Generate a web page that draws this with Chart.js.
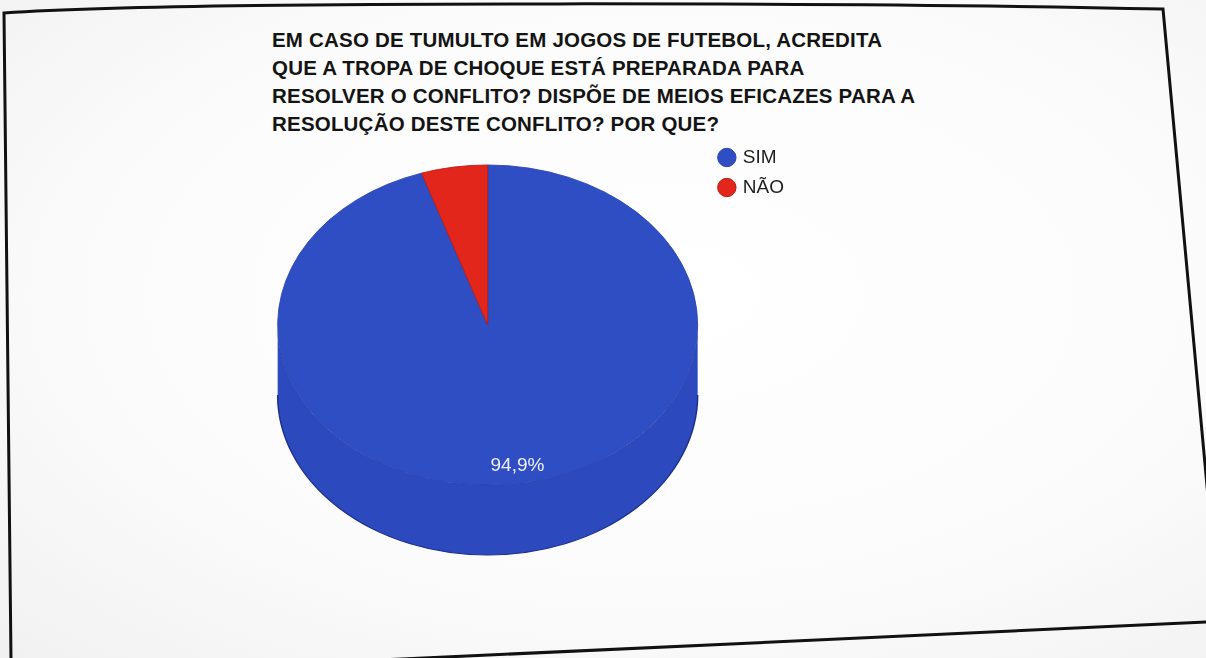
<!DOCTYPE html>
<html>
<head>
<meta charset="utf-8">
<script src="https://cdn.jsdelivr.net/npm/chart.js@4.4.1/dist/chart.umd.min.js"></script>
<style>
  html, body { margin: 0; padding: 0; }
  body {
    width: 1206px; height: 658px; overflow: hidden; position: relative;
    background: radial-gradient(ellipse at 55% 45%, #ffffff 0%, #fbfbfb 60%, #f1f1f1 100%);
    font-family: "Liberation Sans", Arial, sans-serif;
  }
  #titulo {
    position: absolute; left: 272px; top: 26px; margin: 0;
    font-size: 20.5px; line-height: 28px; font-weight: bold; letter-spacing: 0.2px;
    color: #141414; white-space: nowrap;
  }
  #moldura, #grafico { position: absolute; left: 0; top: 0; }
</style>
</head>
<body>
<svg id="moldura" width="1206" height="658">
  <path d="M 11 660 L 4 13 C 200 0, 900 3, 1163 9 L 1212 540" fill="none" stroke="#111" stroke-width="3"/>
  <path d="M 380 660 L 1208 622" fill="none" stroke="#111" stroke-width="3"/>
</svg>
<div id="titulo"></div>
<canvas id="grafico" width="1206" height="658"></canvas>

<script>
// dados do gráfico
const tituloLinhas = [
  "EM CASO DE TUMULTO EM JOGOS DE FUTEBOL, ACREDITA",
  "QUE A TROPA DE CHOQUE ESTÁ PREPARADA PARA",
  "RESOLVER O CONFLITO? DISPÕE DE MEIOS EFICAZES PARA A",
  "RESOLUÇÃO DESTE CONFLITO? POR QUE?"
];
const categorias = ["SIM", "NÃO"];
const percentuais = [94.9, 5.1];
const cores = ["#2f4ec4", "#e2261c"];
const coresBorda = ["#2a43b0", "#b81b12"];
const coresLateral = ["#2c4abd", "#c82018"];

document.getElementById("titulo").innerHTML = tituloLinhas.join("<br>");

// pizza "3D": face de cima achatada + lateral
const inclinacao = 0.762;
const profundidade = 70;
const raioRotulo = 0.89;
const minRotulo = 0.1; // fatias menores não recebem rótulo

// trechos do arco que ficam na frente (ângulos 0..PI)
function frente(s, e){
  const out = [];
  for(let k=-1;k<=2;k++){
    const a0 = Math.max(s, 2*Math.PI*k);
    const a1 = Math.min(e, 2*Math.PI*k + Math.PI);
    if(a1 > a0) out.push([a0, a1]);
  }
  return out;
}

const pizza3d = {
  id: "pizza3d",
  beforeDatasetsDraw(chart){
    const ctx = chart.ctx;
    const arcs = chart.getDatasetMeta(0).data;
    const cx = arcs[0].x, cy = arcs[0].y;
    ctx.save();
    ctx.translate(cx, cy);
    ctx.scale(1, inclinacao);
    ctx.translate(-cx, -cy);
    const d = profundidade / inclinacao;
    arcs.forEach((arc, i)=>{
      const r = arc.outerRadius;
      frente(arc.startAngle, arc.endAngle).forEach(([a0, a1])=>{
        ctx.beginPath();
        ctx.arc(cx, cy, r, a0, a1);
        ctx.arc(cx, cy + d, r, a1, a0, true);
        ctx.closePath();
        ctx.fillStyle = coresLateral[i];
        ctx.fill();
        ctx.beginPath();
        ctx.arc(cx, cy + d, r, a0, a1);
        ctx.lineWidth = 1.5;
        ctx.strokeStyle = "#1d2f8f";
        ctx.stroke();
      });
    });
  },
  afterDatasetsDraw(chart){
    const ctx = chart.ctx;
    ctx.restore();
    const arcs = chart.getDatasetMeta(0).data;
    const total = percentuais.reduce((a,b)=>a+b, 0);
    ctx.save();
    ctx.fillStyle = "#eef0ff";
    ctx.font = "19px 'Liberation Sans', Arial, sans-serif";
    ctx.textAlign = "center";
    ctx.textBaseline = "middle";
    arcs.forEach((arc, i)=>{
      if(percentuais[i]/total < minRotulo) return;
      const meio = (arc.startAngle + arc.endAngle)/2;
      const rr = arc.outerRadius * raioRotulo;
      const x = arc.x + Math.cos(meio)*rr;
      const y = arc.y + Math.sin(meio)*rr*inclinacao;
      ctx.fillText(percentuais[i].toFixed(1).replace(".", ",") + "%", x, y);
    });
    ctx.restore();
  }
};

new Chart(document.getElementById("grafico"), {
  type: "pie",
  data: {
    labels: categorias,
    datasets: [{
      data: percentuais,
      backgroundColor: cores,
      borderColor: coresBorda,
      borderWidth: 1,
      radius: 210
    }]
  },
  options: {
    responsive: false,
    animation: false,
    events: [],
    layout: { padding: { left: 266, top: 137, right: 412, bottom: 145 } },
    plugins: {
      tooltip: { enabled: false },
      legend: {
        position: "right",
        align: "start",
        labels: {
          usePointStyle: true,
          pointStyle: "circle",
          boxWidth: 13,
          boxHeight: 13,
          padding: 11,
          color: "#1e1e1e",
          font: { family: "'Liberation Sans', Arial, sans-serif", size: 19 }
        }
      }
    }
  },
  plugins: [pizza3d]
});
</script>
</body>
</html>
